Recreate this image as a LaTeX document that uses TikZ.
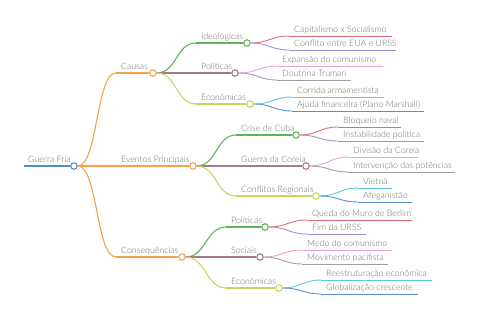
\documentclass[tikz,border=0pt]{standalone}
\usepackage{fontspec}
\setmainfont{Lato}[UprightFont={* Light}]
\definecolor{cRoot}{HTML}{4D8FBD}
\definecolor{cOra}{HTML}{F6A24C}
\definecolor{cGre}{HTML}{5BB55B}
\definecolor{cBro}{HTML}{A67A8A}
\definecolor{cYel}{HTML}{C8D55C}
\definecolor{cRed}{HTML}{E06A78}
\definecolor{cPur}{HTML}{A08EE0}
\definecolor{cPin}{HTML}{EFA0D8}
\definecolor{cMau}{HTML}{A898AC}
\definecolor{cCya}{HTML}{5CCAD9}
\definecolor{cBlu}{HTML}{5B8ECF}
\definecolor{cTxt}{HTML}{6E6E6E}
\tikzset{
  dot/.style={circle, draw=#1, fill=white, line width=1.1pt, inner sep=0pt, minimum size=6.5pt},
  lbl/.style={anchor=base west, inner sep=0pt, text=cTxt, font=\fontsize{8.8}{10}\selectfont},
  ln/.style={draw=#1, line width=1.1pt},
  lnr/.style={draw=#1, line width=1.8pt},
  lnl/.style={draw=#1, line width=0.9pt},
}
\newcommand{\lnk}[4]{\draw[#1] (#2) .. controls +(#4,0) and +(-#4,0) .. (#3);}
\begin{document}
\begin{tikzpicture}[x=1pt,y=-1pt]
\useasboundingbox (0,0) rectangle (480,320);
% root
\coordinate (r0) at (24,166);
\node[dot=cRoot] (R) at (74,166) {};
\draw[lnr=cRoot] (r0) -- (R.west);
\node[lbl] (tR) at (28,162.5) {Guerra Fria};
% level 1
\coordinate (a0) at (116,73);   \node[dot=cOra] (A) at (153,73) {};
\coordinate (b0) at (116,166);  \node[dot=cOra] (B) at (193,166) {};
\coordinate (c0) at (116,257);  \node[dot=cOra] (C) at (182,257) {};
\foreach \s/\e in {a0/A,b0/B,c0/C}{
  \lnk{ln=cOra}{R.east}{\s}{20}
  \draw[ln=cOra] (\s) -- (\e.west);
}
\node[lbl] at (121,69.5) {Causas};
\node[lbl] at (121,162.5) {Eventos Principais};
\node[lbl] at (121,253.5) {Consequências};
% level 2 - Causas
\coordinate (a10) at (196,43);  \node[dot=cGre] (A1) at (247,43) {};
\coordinate (a20) at (196,73);  \node[dot=cBro] (A2) at (235,73) {};
\coordinate (a30) at (196,104); \node[dot=cYel] (A3) at (250,104) {};
% level 2 - Eventos
\coordinate (b10) at (236,135); \node[dot=cGre] (B1) at (296,135) {};
\coordinate (b20) at (236,166); \node[dot=cBro] (B2) at (306,166) {};
\coordinate (b30) at (236,196); \node[dot=cYel] (B3) at (316,196) {};
% level 2 - Consequencias
\coordinate (c10) at (226,227); \node[dot=cGre] (C1) at (265,227) {};
\coordinate (c20) at (226,257); \node[dot=cBro] (C2) at (260,257) {};
\coordinate (c30) at (226,288); \node[dot=cYel] (C3) at (279,288) {};
\foreach \p/\s/\e/\c in {A/a10/A1/cGre,A/a20/A2/cBro,A/a30/A3/cYel,
                         B/b10/B1/cGre,B/b20/B2/cBro,B/b30/B3/cYel,
                         C/c10/C1/cGre,C/c20/C2/cBro,C/c30/C3/cYel}{
  \lnk{ln=\c}{\p.east}{\s}{20}
  \draw[ln=\c] (\s) -- (\e.west);
}
\node[lbl] at (201,39.5) {Ideológicas};
\node[lbl] at (201,69.5) {Políticas};
\node[lbl] at (201,100.5) {Econômicas};
\node[lbl] at (241,131.5) {Crise de Cuba};
\node[lbl] at (241,162.5) {Guerra da Coreia};
\node[lbl] at (241,192.5) {Conflitos Regionais};
\node[lbl] at (231,223.5) {Políticas};
\node[lbl] at (231,253.5) {Sociais};
\node[lbl] at (231,284.5) {Econômicas};
% level 3 leaves
\foreach \p/\x/\y/\xe/\c/\t in {
  A1/289/36/392/cRed/{Capitalismo x Socialismo},
  A1/289/50/396/cPur/{Conflito entre EUA e URSS},
  A2/277/66/383/cPin/{Expansão do comunismo},
  A2/277/80/351/cMau/{Doutrina Truman},
  A3/292/97/384/cCya/{Corrida armamentista},
  A3/292/111/424/cBlu/{Ajuda financeira (Plano Marshall)},
  B1/338/127/401/cRed/{Bloqueio naval},
  B1/338/141/424/cPur/{Instabilidade política},
  B2/348/157/418/cPin/{Divisão da Coreia},
  B2/348/172/455/cMau/{Intervenção das potências},
  B3/358/188/392/cCya/{Vietnã},
  B3/358/202/412/cBlu/{Afeganistão},
  C1/307/220/412/cRed/{Queda do Muro de Berlim},
  C1/307/234/366/cPur/{Fim da URSS},
  C2/302/250/392/cPin/{Medo do comunismo},
  C2/302/264/388/cMau/{Movimento pacifista},
  C3/321/280/432/cCya/{Reestruturação econômica},
  C3/321/294/418/cBlu/{Globalização crescente}}{
  \coordinate (s) at (\x,\y);
  \coordinate (e) at (\xe,\y);
  \lnk{lnl=\c}{\p.east}{s}{18}
  \draw[lnl=\c] (s) -- (e);
  \node[lbl] at (\x+5,\y-3.5) {\t};
}
\end{tikzpicture}
\end{document}
